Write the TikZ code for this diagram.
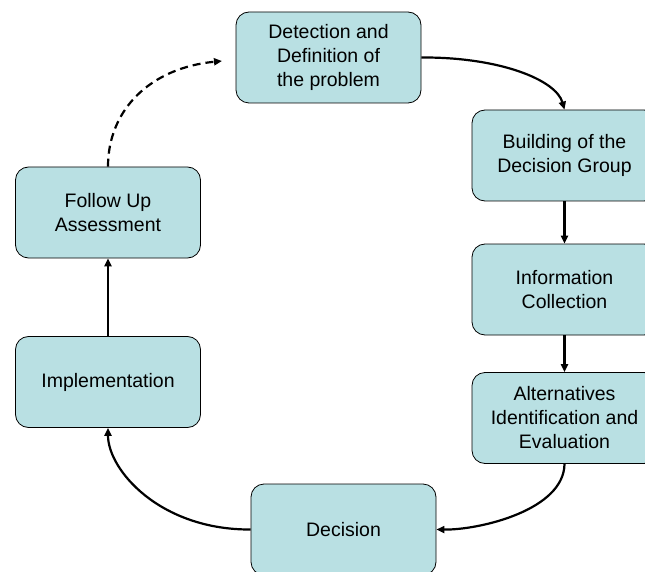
\documentclass[tikz,border=0pt]{standalone}
\usepackage{fontspec}
\setmainfont{Liberation Sans}
\usetikzlibrary{arrows.meta}
\definecolor{boxfill}{RGB}{185,224,227}
\begin{document}
\begin{tikzpicture}[x=1pt,y=-1pt,
  stage/.style={draw=black, line width=0.8pt, fill=boxfill, rounded corners=13pt,
    minimum width=185pt, minimum height=91pt, align=center, inner sep=2pt,
    font=\fontsize{19.5}{24}\selectfont},
  flow/.style={line width=2.2pt, -{Triangle[length=8pt,width=7pt]}},
  loopback/.style={flow, dash pattern=on 8pt off 5pt}]
\useasboundingbox (0,0) rectangle (645,572);
\node[stage] (det) at (328.5,57.5) {Detection and\\Definition of\\the problem};
\node[stage] (bld) at (564.5,155.5) {Building of the\\Decision Group};
\node[stage] (inf) at (564.5,289.5) {Information\\Collection};
\node[stage] (alt) at (564.5,418) {Alternatives\\Identification and\\Evaluation};
\node[stage] (dec) at (343.5,529.5) {Decision};
\node[stage] (imp) at (108,382) {Implementation};
\node[stage] (fol) at (108,212.5) {Follow Up\\Assessment};
\coordinate (ret) at (222,61);
\draw[flow] (det.east) .. controls (500,57) and (556,80) .. (bld.north);
\draw[flow] (bld.south) -- (inf.north);
\draw[flow] (inf.south) -- (alt.north);
\draw[flow] (alt.south) .. controls (564,510) and (480,530) .. (dec.east);
\draw[flow] (dec.west) .. controls (160,530) and (108,470) .. (imp.south);
\draw[flow] (imp.north) -- (fol.south);
\draw[loopback] (fol.north) .. controls (108,110) and (150,68) .. (ret);
\end{tikzpicture}
\end{document}
